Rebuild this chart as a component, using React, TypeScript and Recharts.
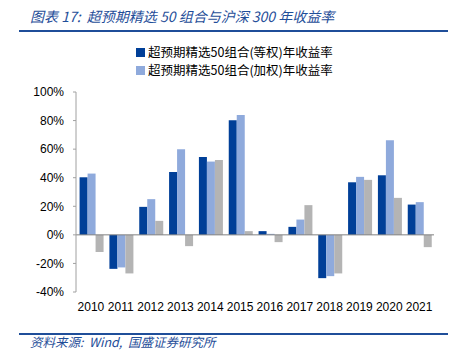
import { Bar, BarChart, XAxis, YAxis, ReferenceLine } from "recharts"

const years = ["2010", "2011", "2012", "2013", "2014", "2015", "2016", "2017", "2018", "2019", "2020", "2021"]
const equalWeight = [40.3, -23.8, 19.6, 44.0, 54.5, 80.2, 2.6, 5.6, -30.3, 36.8, 41.7, 21.2]
const capWeight = [42.9, -22.8, 25.0, 60.0, 51.3, 83.9, 0.7, 10.7, -28.9, 40.6, 66.2, 22.9]
const hs300 = [-12.0, -27.0, 9.8, -7.9, 52.4, 2.6, -5.1, 20.8, -27.0, 38.5, 25.9, -8.6]
const yTicks = [-40, -20, 0, 20, 40, 60, 80, 100]
const seriesNames = ["超预期精选50组合(等权)年收益率", "超预期精选50组合(加权)年收益率", "沪深300年收益率"]
const seriesColors = ["#003F98", "#8FAADC", "#B4B4B4"]

const data = years.map((y, i) => ({ year: y, a: equalWeight[i], b: capWeight[i], c: hs300[i] }))

const blue = "#1F4E99"

export default function App() {
  return (
    <div style={{ position: "absolute", left: 0, top: 0, width: 457, height: 350, background: "#fff" }}>
      <div style={{ position: "absolute", left: 30, top: 6, fontFamily: "'Noto Sans CJK SC', sans-serif", fontStyle: "italic", fontSize: 14, color: blue, whiteSpace: "pre" }}>
        {"图表 17:  超预期精选 50 组合与沪深 300 年收益率"}
      </div>
      <div style={{ position: "absolute", left: 19, top: 30, width: 429, height: 2, background: blue }} />
      {/* legend only lists the two portfolio series, like the source */}
      <div style={{ position: "absolute", left: 136, top: 43, fontFamily: "'Noto Sans CJK SC', sans-serif", fontSize: 12.5, color: "#000", lineHeight: "18px" }}>
        {seriesNames.slice(0, 2).map((n, i) => (
          <div key={n} style={{ display: "flex", alignItems: "center", height: 18 }}>
            <span style={{ width: 9, height: 9, background: seriesColors[i], display: "inline-block", marginRight: 3 }} />
            <span>{n}</span>
          </div>
        ))}
      </div>
      <BarChart
        width={457}
        height={350}
        data={data}
        margin={{ top: 92, right: 23, bottom: 33, left: 0 }}
        barGap={0}
        barCategoryGap="12%"
      >
        <XAxis dataKey="year" axisLine={false} tickLine={false} height={25} tick={{ fill: "#000", fontSize: 12, fontFamily: "'Liberation Sans', sans-serif" }} tickMargin={4} />
        <YAxis
          domain={[-40, 100]}
          ticks={yTicks}
          width={76}
          tickFormatter={(v) => `${v}%`}
          axisLine={{ stroke: "#A0A0A0" }}
          tickLine={{ stroke: "#A0A0A0" }}
          tickSize={3}
          tickMargin={9}
          tick={{ fill: "#000", fontSize: 12, fontFamily: "'Liberation Sans', sans-serif" }}
        />
        <ReferenceLine y={0} stroke="#808080" />
        <Bar dataKey="a" name={seriesNames[0]} fill={seriesColors[0]} isAnimationActive={false} />
        <Bar dataKey="b" name={seriesNames[1]} fill={seriesColors[1]} isAnimationActive={false} />
        <Bar dataKey="c" name={seriesNames[2]} fill={seriesColors[2]} isAnimationActive={false} />
      </BarChart>
      <div style={{ position: "absolute", left: 19, top: 333, width: 429, height: 1.5, background: blue }} />
      <div style={{ position: "absolute", left: 30, top: 334, fontFamily: "'Noto Sans CJK SC', sans-serif", fontStyle: "italic", fontSize: 12.5, color: blue, whiteSpace: "pre", lineHeight: "16px" }}>
        {"资料来源:  Wind,  国盛证券研究所"}
      </div>
    </div>
  )
}
